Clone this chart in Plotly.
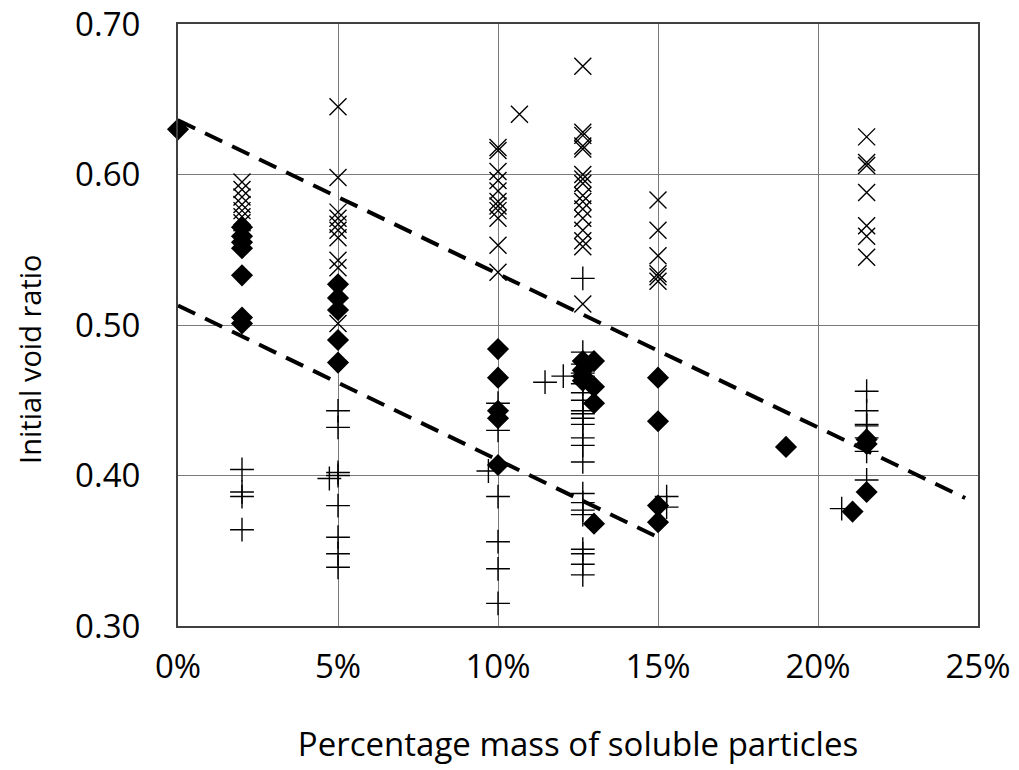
import plotly.graph_objects as go

# Diamond series (solid)
diamond_x = [0.0,
             0.02, 0.02, 0.02, 0.02, 0.02, 0.02, 0.02,
             0.05, 0.05, 0.05, 0.05, 0.05,
             0.10, 0.10, 0.10, 0.10, 0.10,
             0.1265, 0.1265, 0.1265, 0.1265,
             0.130, 0.130, 0.130, 0.130,
             0.150, 0.150, 0.150, 0.150,
             0.190, 0.2108, 0.2152, 0.2152, 0.2152]
diamond_y = [0.630,
             0.565, 0.559, 0.555, 0.551, 0.533, 0.505, 0.501,
             0.527, 0.518, 0.510, 0.490, 0.475,
             0.484, 0.465, 0.443, 0.438, 0.407,
             0.476, 0.470, 0.466, 0.463,
             0.476, 0.459, 0.448, 0.368,
             0.465, 0.436, 0.380, 0.369,
             0.419, 0.376, 0.424, 0.421, 0.389]

# Cross (x) series
cross_x = [0.02, 0.02, 0.02, 0.02, 0.02, 0.02, 0.02,
           0.05, 0.05, 0.05, 0.05, 0.05, 0.05, 0.05, 0.05, 0.05, 0.05,
           0.10, 0.10, 0.10, 0.10, 0.10, 0.10, 0.10, 0.10, 0.10, 0.10, 0.10,
           0.1067,
           0.1265, 0.1265, 0.1265, 0.1265, 0.1265, 0.1265, 0.1265, 0.1265, 0.1265,
           0.1265, 0.1265, 0.1265, 0.1265, 0.1265, 0.1265, 0.1265,
           0.150, 0.150, 0.150, 0.150, 0.150, 0.150,
           0.2152, 0.2152, 0.2152, 0.2152, 0.2152, 0.2152, 0.2152]
cross_y = [0.595, 0.590, 0.585, 0.580, 0.576, 0.572, 0.568,
           0.645, 0.598, 0.575, 0.571, 0.567, 0.563, 0.558, 0.543, 0.538, 0.501,
           0.618, 0.616, 0.602, 0.596, 0.589, 0.582, 0.579, 0.576, 0.571, 0.553, 0.535,
           0.640,
           0.672, 0.628, 0.626, 0.619, 0.600, 0.597, 0.594, 0.586, 0.582,
           0.577, 0.571, 0.563, 0.556, 0.552, 0.514, 0.617,
           0.583, 0.563, 0.546, 0.534, 0.532, 0.529,
           0.625, 0.608, 0.606, 0.588, 0.566, 0.559, 0.545]

# Plus series
plus_x = [0.02, 0.02, 0.02, 0.02,
          0.05, 0.05, 0.05, 0.05, 0.0473, 0.05, 0.05, 0.05, 0.05,
          0.10, 0.10, 0.097, 0.10, 0.10, 0.10, 0.10,
          0.1147, 0.1204,
          0.1265, 0.1265, 0.1265, 0.1265, 0.1265, 0.1265, 0.1265, 0.1265, 0.1265,
          0.1265, 0.1265, 0.1265, 0.1265, 0.1265, 0.1265, 0.1265, 0.1265, 0.1265,
          0.1265, 0.1265, 0.1265, 0.1265, 0.1265,
          0.1527, 0.1527,
          0.2152, 0.2152, 0.2152, 0.2152, 0.2152, 0.2152, 0.2152, 0.2074]
plus_y = [0.404, 0.389, 0.386, 0.364,
          0.443, 0.432, 0.402, 0.400, 0.398, 0.380, 0.359, 0.348, 0.339,
          0.448, 0.430, 0.403, 0.386, 0.356, 0.338, 0.315,
          0.462, 0.466,
          0.531, 0.482, 0.474, 0.468, 0.466, 0.461, 0.455, 0.450, 0.443,
          0.441, 0.438, 0.434, 0.425, 0.420, 0.409, 0.388, 0.382, 0.377,
          0.374, 0.351, 0.348, 0.341, 0.334,
          0.386, 0.379,
          0.456, 0.443, 0.434, 0.433, 0.425, 0.416, 0.397, 0.378]

# Trend lines (endpoints)
upper_x = [0.0, 0.246]
upper_y = [0.636, 0.385]
lower_x = [0.0, 0.149]
lower_y = [0.513, 0.360]

x_ticks = [0, 0.05, 0.10, 0.15, 0.20, 0.25]
x_ticklabels = ["0%", "5%", "10%", "15%", "20%", "25%"]
y_ticks = [0.30, 0.40, 0.50, 0.60, 0.70]
y_ticklabels = ["0.30", "0.40", "0.50", "0.60", "0.70"]

FONT = "'Open Sans', Lato, sans-serif"

fig = go.Figure()
fig.add_trace(go.Scatter(x=upper_x, y=upper_y, mode="lines",
                         line=dict(color="black", width=4, dash="19px,11px"),
                         showlegend=False, hoverinfo="skip"))
fig.add_trace(go.Scatter(x=lower_x, y=lower_y, mode="lines",
                         line=dict(color="black", width=4, dash="19px,11px"),
                         showlegend=False, hoverinfo="skip"))
fig.add_trace(go.Scatter(x=plus_x, y=plus_y, mode="markers",
                         marker=dict(symbol="cross-thin", size=17,
                                     line=dict(color="black", width=1.4)),
                         cliponaxis=False, showlegend=False))
fig.add_trace(go.Scatter(x=cross_x, y=cross_y, mode="markers",
                         marker=dict(symbol="x-thin", size=17,
                                     line=dict(color="black", width=1.4)),
                         cliponaxis=False, showlegend=False))
fig.add_trace(go.Scatter(x=diamond_x, y=diamond_y, mode="markers",
                         marker=dict(symbol="diamond", size=17, color="black"),
                         cliponaxis=False, showlegend=False))

fig.update_layout(
    width=1019, height=770,
    paper_bgcolor="white", plot_bgcolor="white",
    margin=dict(l=178, r=41, t=24, b=144, autoexpand=False),
    font=dict(family=FONT, size=33, color="black"),
)
fig.update_xaxes(
    range=[0, 0.25], tickvals=x_ticks, ticktext=x_ticklabels,
    showgrid=True, gridcolor="#7a7a7a", gridwidth=1,
    showline=True, linecolor="#404040", linewidth=2, mirror=True,
    zeroline=False, ticks="", ticklabelstandoff=10, automargin=False,
    tickfont=dict(size=33),
    title=dict(text="Percentage mass of soluble particles",
               font=dict(size=33), standoff=46),
)
fig.update_yaxes(
    range=[0.30, 0.70], tickvals=y_ticks, ticktext=y_ticklabels,
    showgrid=True, gridcolor="#7a7a7a", gridwidth=1,
    showline=True, linecolor="#404040", linewidth=2, mirror=True,
    zeroline=False, ticks="", ticklabelstandoff=29, automargin=False,
    tickfont=dict(size=33),
)
# y-axis title placed as rotated text (slightly below centre, as in the reference)
fig.add_annotation(text="Initial void ratio", xref="paper", yref="paper",
                   x=-0.185, y=0.442, xanchor="center", yanchor="middle",
                   textangle=-90, showarrow=False, font=dict(size=29))

fig.write_html("out.html", config={"displayModeBar": False},
               post_script="document.body.style.margin='0';")
